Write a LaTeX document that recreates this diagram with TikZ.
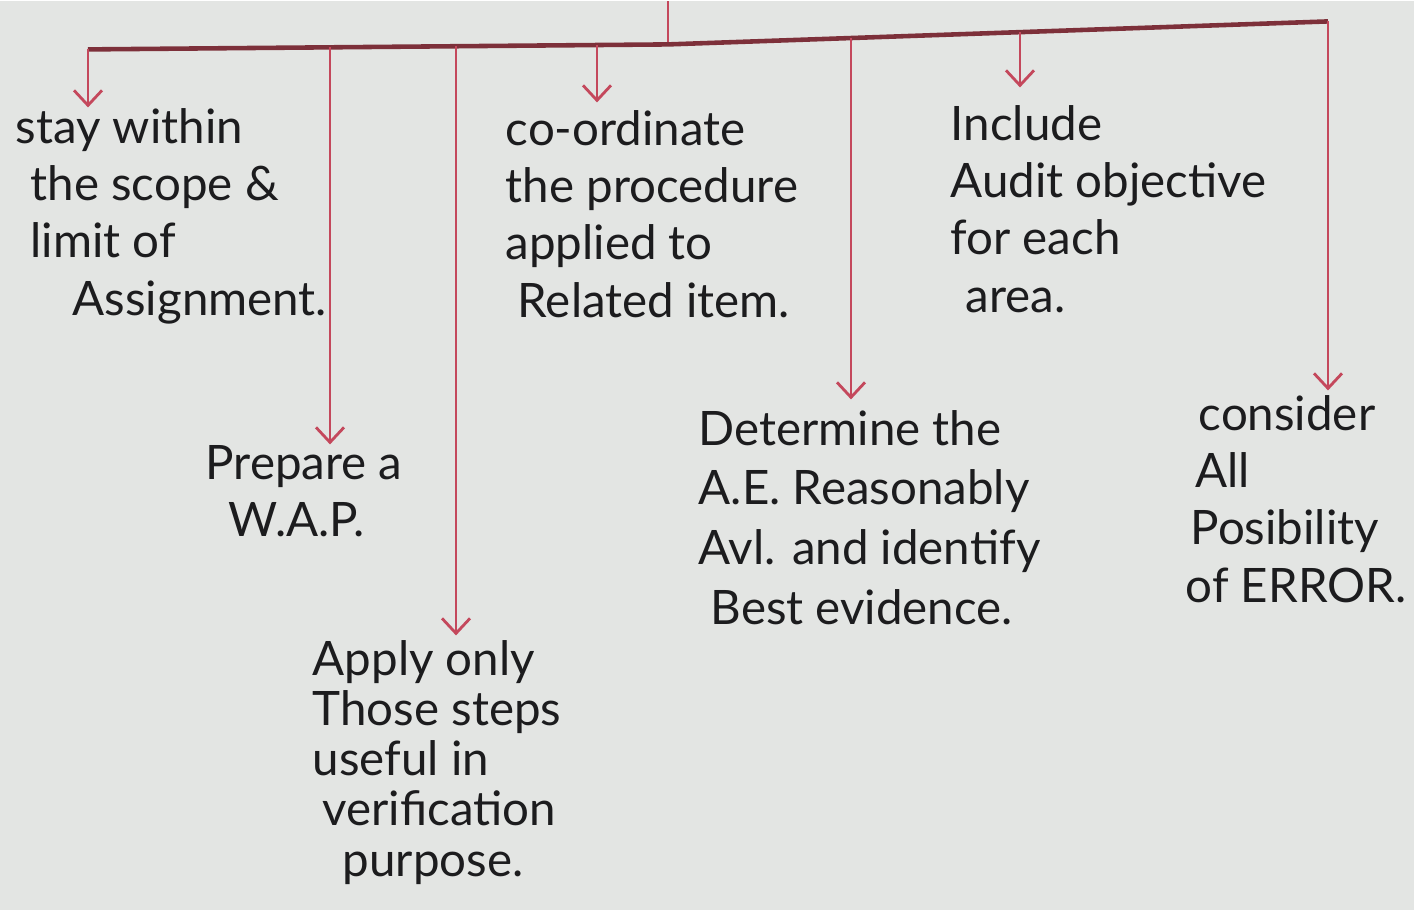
\documentclass[tikz,border=0pt]{standalone}
\usepackage{fontspec}
\setmainfont{Lato}
\usetikzlibrary{positioning, arrows.meta}
\definecolor{paper}{RGB}{227,229,227}
\definecolor{penred}{RGB}{196,72,92}
\definecolor{barred}{RGB}{125,48,58}
\definecolor{ink}{RGB}{28,28,30}

\begin{document}
\begin{tikzpicture}[x=0.01cm, y=-0.01cm,
    note/.style={
      anchor=north west, align=left, inner sep=0pt, text=ink,
      font=\fontsize{13.5}{16.3}\selectfont
    },
    tight/.style={font=\fontsize{13.5}{14.3}\selectfont},
    loose/.style={font=\fontsize{13.5}{17}\selectfont},
    arr/.style={-{Straight Barb[length=1.5mm, width=2.8mm]}, penred, line width=0.8pt},
    bar/.style={barred, line width=1.3pt},
  ]
    \fill[paper] (0,0) rectangle (1414,909);

    \coordinate (root) at (668,0);
    \coordinate (hub) at (668,43);
    \coordinate (b1) at (88,48);
    \coordinate (b2) at (330,46);
    \coordinate (b3) at (456,45);
    \coordinate (b4) at (597,44);
    \coordinate (b5) at (851,37);
    \coordinate (b6) at (1020,31);
    \coordinate (b7) at (1328,20);

    \node[note] (scope) at (15,106) {%
      stay within\\
      \hspace{0.15cm}the scope \&\\
      \hspace{0.15cm}limit of\\
      \hspace{0.57cm}Assignment.
    };
    \node[note] (wap) at (205,443) {%
      Prepare a\\
      \hspace{0.23cm}W.A.P.
    };
    \node[note, tight] (steps) at (312,638) {%
      Apply only\\
      Those steps\\
      useful in\\
      \hspace{0.1cm}verification\\
      \hspace{0.3cm}purpose.
    };
    \node[note] (coord) at (505,108) {%
      co-ordinate\\
      the procedure\\
      applied to\\
      \hspace{0.12cm}Related item.
    };
    \node[note, loose] (evid) at (698,408) {%
      Determine the\\
      A.E. Reasonably\\
      Avl. and identify\\
      \hspace{0.12cm}Best evidence.
    };
    \node[note] (obj) at (950,103) {%
      Include\\
      Audit objective\\
      for each\\
      \hspace{0.15cm}area.
    };
    \node[note] (error) at (1185,393) {%
      \hspace{0.13cm}consider\\
      \hspace{0.1cm}All\\
      \hspace{0.05cm}Posibility\\
      of ERROR.
    };

    \draw[penred, line width=0.8pt] (root) -- (hub);
    \draw[bar] (b1) -- (hub) -- (b7);

    \draw[arr] (b1) -- (b1 |- scope.north);
    \draw[arr] (b2) -- (b2 |- wap.north);
    \draw[arr] (b3) -- ([yshift=0.04cm]b3 |- steps.north);
    \draw[arr] (b4) -- ([yshift=0.07cm]b4 |- coord.north);
    \draw[arr] (b5) -- ([yshift=0.1cm]b5 |- evid.north);
    \draw[arr] (b6) -- ([yshift=0.17cm]b6 |- obj.north);
    \draw[arr] (b7) -- ([yshift=0.04cm]b7 |- error.north);
  \end{tikzpicture}
\end{document}
